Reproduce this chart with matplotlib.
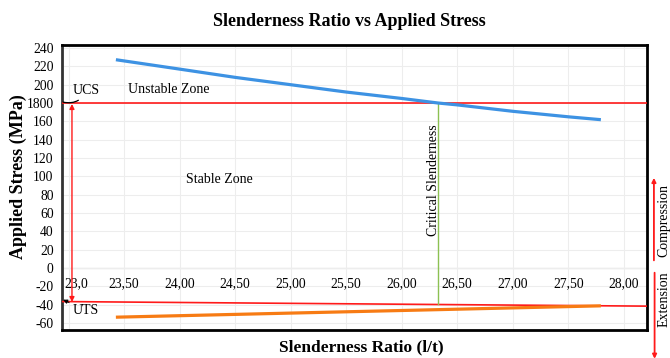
import matplotlib
matplotlib.use("Agg")
import matplotlib.pyplot as plt

plt.rcParams['font.family'] = ['Liberation Serif', 'DejaVu Serif']

# applied stress (compression side) vs slenderness ratio
slenderness = [23.44, 24.0, 24.5, 25.0, 25.5, 26.0, 26.33, 26.5, 27.0, 27.5, 27.78]
comp_stress = [227, 217, 208, 200, 192, 185, 180, 178, 171, 165, 162]

# extension side
ext_x = [23.44, 27.78]
ext_stress = [-53.5, -41.2]

ucs = 180            # ultimate compressive strength
uts_x = [22.94, 28.21]
uts = [-36.5, -41.5]  # ultimate tensile strength line
critical = 26.33

xticks = [23.0, 23.5, 24.0, 24.5, 25.0, 25.5, 26.0, 26.5, 27.0, 27.5, 28.0]
xlabels = ['23,0', '23,50', '24,00', '24,50', '25,00', '25,50', '26,00',
           '26,50', '27,00', '27,50', '28,00']
yticks = list(range(-60, 241, 20))
ylabels = [str(v) if v != 180 else '1800' for v in yticks]

fig = plt.figure(figsize=(6.7, 3.58), dpi=100)
ax = fig.add_axes([0.0925, 0.078, 0.8732, 0.7963])

ax.set_xlim(22.94, 28.21)
ax.set_ylim(-67.6, 243.3)

ax.set_xticks(xticks)
ax.set_xticklabels([])
ax.set_yticks(yticks)
ax.set_yticklabels(ylabels, fontsize=9.8)
ax.tick_params(length=0, pad=6)
ax.grid(True, color='#ededed', lw=0.8)
ax.axhline(0, color='#d0d0d0', lw=0.9, zorder=1)
for s in ax.spines.values():
    s.set_color('black')
    s.set_linewidth(2.0)
ax.spines['left'].set_color('#333333')

for v, lab in zip(xticks, xlabels):
    if v == 23.0:
        ax.text(22.965, -17, lab, ha='left', va='center', fontsize=9.8)
    else:
        ax.text(v, -17, lab, ha='center', va='center', fontsize=9.8)

ax.plot(slenderness, comp_stress, color='#3d92e3', lw=2.3, zorder=4)
ax.plot(ext_x, ext_stress, color='#f77b14', lw=2.3, zorder=4)
ax.axhline(ucs, color='#ff1a1a', lw=1.2, zorder=3)
ax.plot(uts_x, uts, color='#ff1a1a', lw=1.2, zorder=3)
ax.plot([critical, critical], [ucs, -39.5], color='#8cc152', lw=1.0, zorder=3)

# UCS / UTS double arrow
ax.annotate('', xy=(23.03, ucs - 1), xytext=(23.03, uts[0] - 0.5),
            arrowprops=dict(arrowstyle='<|-|>', color='#ff1a1a', lw=1.0,
                            mutation_scale=7, shrinkA=0, shrinkB=0))

ax.annotate('UCS', xy=(22.95, ucs + 1), xytext=(23.04, 194),
            fontsize=10, va='center', ha='left',
            arrowprops=dict(arrowstyle='-', color='black', lw=0.9,
                            connectionstyle='arc3,rad=-0.4', shrinkA=1, shrinkB=0))
ax.annotate('UTS', xy=(22.95, -34.5), xytext=(23.04, -46),
            fontsize=10, va='center', ha='left',
            arrowprops=dict(arrowstyle='-|>', color='black', lw=0.8,
                            mutation_scale=6, shrinkA=1, shrinkB=0))

ax.text(23.90, 195, 'Unstable Zone', fontsize=10, ha='center', va='center')
ax.text(24.36, 97, 'Stable Zone', fontsize=10, ha='center', va='center')
ax.text(26.29, 96, 'Critical Slenderness', fontsize=10, rotation=90,
        ha='center', va='center')

fig.text(0.521, 0.939, 'Slenderness Ratio vs Applied Stress', fontsize=13,
         fontweight='bold', ha='center', va='center')
fig.text(0.027, 0.506, 'Applied Stress (MPa)', fontsize=13, fontweight='bold',
         rotation=90, ha='center', va='center')
fig.text(0.54, 0.031, 'Slenderness Ratio (l/t)', fontsize=12.5, fontweight='bold',
         ha='center', va='center')

# compression / extension markers at the right
fig.patches.append(matplotlib.patches.FancyArrowPatch(
    (0.976, 0.265), (0.976, 0.511), transform=fig.transFigure,
    arrowstyle='-|>', mutation_scale=6, color='#ff1a1a', lw=1.3))
fig.text(0.991, 0.383, 'Compression', fontsize=10, rotation=90,
         ha='center', va='center')
fig.patches.append(matplotlib.patches.FancyArrowPatch(
    (0.977, 0.246), (0.977, -0.01), transform=fig.transFigure,
    arrowstyle='-|>', mutation_scale=6, color='#ff1a1a', lw=1.3))
fig.text(0.991, 0.243, 'Extension', fontsize=10, rotation=90,
         ha='center', va='top')

fig.savefig('out.png', dpi=100)
